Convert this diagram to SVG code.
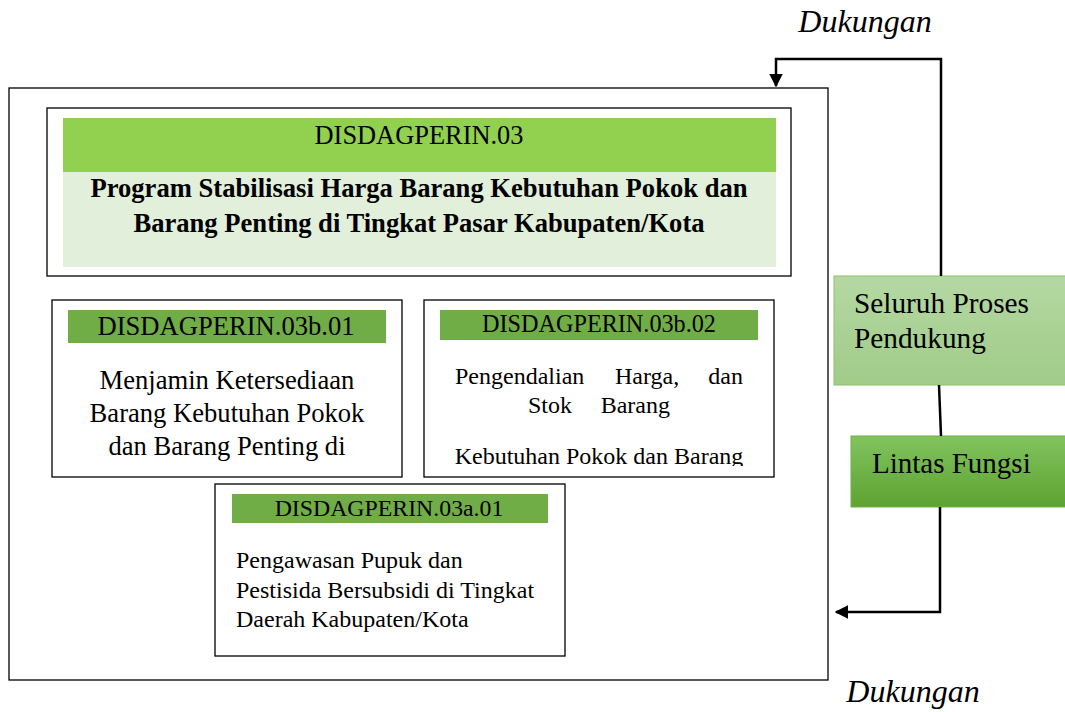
<svg xmlns="http://www.w3.org/2000/svg" width="1065" height="712" viewBox="0 0 1065 712">
  <defs>
    <linearGradient id="gSupport" x1="0" y1="0" x2="0" y2="1">
      <stop offset="0" stop-color="#B5D8A3"/>
      <stop offset="1" stop-color="#A0CB88"/>
    </linearGradient>
    <linearGradient id="gCross" x1="0" y1="0" x2="0" y2="1">
      <stop offset="0" stop-color="#82C35E"/>
      <stop offset="1" stop-color="#5DA332"/>
    </linearGradient>
    <marker id="arrow" viewBox="0 0 10 10" refX="9" refY="5" markerWidth="5.5" markerHeight="5.5" orient="auto" markerUnits="strokeWidth">
      <path d="M0,0 L10,5 L0,10 z" fill="#000"/>
    </marker>
    <clipPath id="clipB02">
      <rect x="424" y="300" width="350" height="166"/>
    </clipPath>
  </defs>
  <style>
    .box { fill: #fff; stroke: #000; stroke-width: 1.3; }
    .bar { fill: #70AD47; }
    .t { font-family: "Liberation Serif", "Times New Roman", serif; fill: #000; }
    .conn { fill: none; stroke: #000; stroke-width: 2.5; }
  </style>

  <rect width="1065" height="712" fill="#fff"/>

  <!-- outer frame -->
  <g id="frame">
    <rect class="box" x="9" y="88" width="819" height="592"/>
  </g>

  <!-- program header -->
  <g id="program">
    <rect class="box" x="47" y="108" width="744" height="168"/>
    <rect x="63" y="118" width="713" height="54" fill="#92D050"/>
    <rect x="63" y="172" width="713" height="95" fill="#E2EFDA"/>
    <text class="t" x="419" y="144" font-size="26.4" text-anchor="middle">DISDAGPERIN.03</text>
    <text class="t" x="419" y="197" font-size="26.6" font-weight="bold" text-anchor="middle">Program Stabilisasi Harga Barang Kebutuhan Pokok dan</text>
    <text class="t" x="419" y="232" font-size="26.6" font-weight="bold" text-anchor="middle">Barang Penting di Tingkat Pasar Kabupaten/Kota</text>
  </g>

  <!-- activity 03b.01 -->
  <g id="act-03b01">
    <rect class="box" x="52" y="300" width="350" height="177"/>
    <rect class="bar" x="68" y="310" width="318" height="33"/>
    <text class="t" x="226" y="335" font-size="26.6" text-anchor="middle">DISDAGPERIN.03b.01</text>
    <text class="t" x="227" y="389" font-size="26.6" text-anchor="middle">Menjamin Ketersediaan</text>
    <text class="t" x="227" y="422" font-size="26.6" text-anchor="middle">Barang Kebutuhan Pokok</text>
    <text class="t" x="227" y="455" font-size="26.6" text-anchor="middle">dan Barang Penting di</text>
  </g>

  <!-- activity 03b.02 -->
  <g id="act-03b02">
    <rect class="box" x="424" y="300" width="350" height="177"/>
    <rect class="bar" x="440" y="310" width="318" height="30"/>
    <text class="t" x="599" y="332" font-size="24.2" text-anchor="middle">DISDAGPERIN.03b.02</text>
    <g clip-path="url(#clipB02)">
      <text class="t" x="455" y="384" font-size="24">Pengendalian</text>
      <text class="t" x="615" y="384" font-size="24">Harga,</text>
      <text class="t" x="743" y="384" font-size="24" text-anchor="end">dan</text>
      <text class="t" x="528" y="413" font-size="24">Stok</text>
      <text class="t" x="670" y="413" font-size="24" text-anchor="end">Barang</text>
      <text class="t" x="599" y="464" font-size="24" text-anchor="middle">Kebutuhan Pokok dan Barang</text>
    </g>
  </g>

  <!-- activity 03a.01 -->
  <g id="act-03a01">
    <rect class="box" x="215" y="484" width="350" height="172"/>
    <rect class="bar" x="232" y="494" width="316" height="29"/>
    <text class="t" x="389" y="516" font-size="23.8" text-anchor="middle">DISDAGPERIN.03a.01</text>
    <text class="t" x="236" y="568" font-size="24">Pengawasan Pupuk dan</text>
    <text class="t" x="236" y="598" font-size="24">Pestisida Bersubsidi di Tingkat</text>
    <text class="t" x="236" y="627" font-size="24">Daerah Kabupaten/Kota</text>
  </g>

  <!-- support process -->
  <g id="support">
    <rect x="834" y="276" width="232" height="109" fill="url(#gSupport)" stroke="#8CC06D" stroke-width="1"/>
    <text class="t" x="854" y="313" font-size="29.3">Seluruh Proses</text>
    <text class="t" x="854" y="348" font-size="29.3">Pendukung</text>
  </g>

  <!-- cross function -->
  <g id="cross">
    <rect x="851" y="436" width="215" height="71" fill="url(#gCross)" stroke="#6FB145" stroke-width="1"/>
    <text class="t" x="872" y="473" font-size="29">Lintas Fungsi</text>
  </g>

  <!-- connectors -->
  <g id="connectors">
    <polyline class="conn" points="941,276 941,59 776,59 776,86" marker-end="url(#arrow)"/>
    <line class="conn" x1="939" y1="385" x2="941" y2="436"/>
    <polyline class="conn" points="940,507 940,612 836,612" marker-end="url(#arrow)"/>
  </g>

  <!-- labels -->
  <g id="labels">
    <text class="t" x="865" y="32" font-size="32" font-style="italic" text-anchor="middle">Dukungan</text>
    <text class="t" x="913" y="702" font-size="32" font-style="italic" text-anchor="middle">Dukungan</text>
  </g>
</svg>
